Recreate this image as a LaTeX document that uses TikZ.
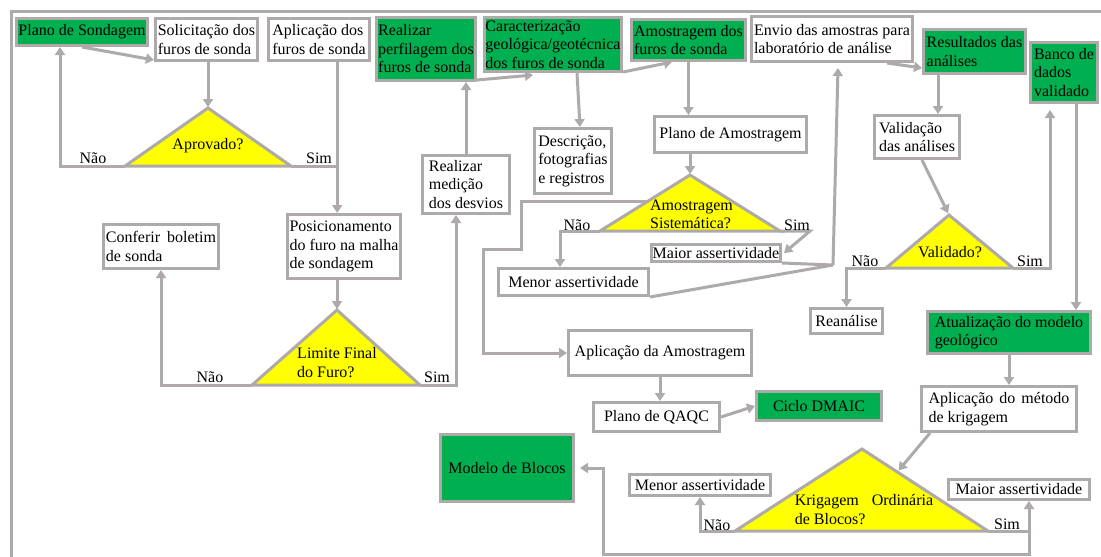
\documentclass[tikz,border=0pt]{standalone}
\usepackage{fontspec}
\setmainfont{Liberation Serif}
\usetikzlibrary{arrows.meta,calc}
\definecolor{lg}{RGB}{174,170,170}
\definecolor{gr}{RGB}{0,176,80}
\definecolor{yl}{RGB}{255,255,0}
\pgfdeclarelayer{bg}
\pgfsetlayers{bg,main}
\begin{document}
\begin{tikzpicture}[x=1pt,y=-1pt,
  every node/.style={font=\rmfamily\fontsize{16}{18.5}\selectfont},
  box/.style={draw=lg, line width=3pt, fill=white, inner sep=0pt, align=left},
  gbox/.style={box, fill=gr},
  sz/.style 2 args={minimum width=#1pt, minimum height=#2pt},
  tri/.style={draw=lg, line width=3pt, fill=yl, line join=miter},
  conn/.style={draw=lg, line width=3pt},
  arr/.style={conn, -{Triangle[length=8pt,width=10pt]}},
  lbl/.style={inner sep=0pt}]
\useasboundingbox (0,0) rectangle (1101,557);

% decision triangles
\filldraw[tri] (208,108) coordinate (t1a) -- (291,166) coordinate (t1r) -- (125,166) coordinate (t1l) -- cycle;
\filldraw[tri] (337,310) coordinate (t2a) -- (420,385) coordinate (t2r) -- (252,385) coordinate (t2l) -- cycle;
\filldraw[tri] (690,175) coordinate (t3a) -- (780,231) coordinate (t3r) -- (600,231) coordinate (t3l) -- cycle;
\filldraw[tri] (949,215) coordinate (t4a) -- (1013,268) coordinate (t4r) -- (886,268) coordinate (t4l) -- cycle;
\filldraw[tri] (862,449) coordinate (t5a) -- (988,531) coordinate (t5r) -- (735,531) coordinate (t5l) -- cycle;

\node[lbl] (q1) at (208,146) {Aprovado?};
\node[lbl, align=left] (q2) at (337,362.5) {Limite Final\\do Furo?};
\node[lbl, align=left] (q3) at (691.5,214.5) {Amostragem\\Sistemática?};
\node[lbl] (q4) at (950,252) {Validado?};
\node[lbl, align=left] (q5) at (864,509.5) {Krigagem\hspace{13pt}Ordinária\\de Blocos?};

% boxes
\node[gbox, sz={131}{27}] (plano) at (82,32) {Plano de Sondagem};
\node[box, sz={102}{42}] (solic) at (206.5,39.5) {Solicitação dos\\furos de sonda};
\node[box, sz={101}{42}] (aplic) at (319,39.5) {Aplicação dos\\furos de sonda};
\node[gbox, sz={99}{63}] (perf) at (426,49) {Realizar\\perfilagem dos\\furos de sonda};
\node[gbox, sz={137}{54}] (carac) at (553,44.5) {Caracterização\\geológica/geotécnica\\dos furos de sonda};
\node[gbox, sz={114}{41}] (amost) at (688.5,40) {Amostragem dos\\furos de sonda};
\node[box, sz={161}{45}] (envio) at (832,39) {Envio das amostras para\\laboratório de análise};
\node[gbox, sz={102}{44}] (result) at (974.5,51.5) {Resultados das\\análises};
\node[gbox, sz={67}{60}] (banco) at (1064,72.5) {Banco de\\dados\\validado};
\node[box, sz={85}{43}] (valid) at (917,137) {Validação\\das análises};
\node[box, sz={77}{65}] (descr) at (573,161) {Descrição,\\fotografias\\e registros};
\node[box, sz={152}{36}] (planoam) at (730.5,134.5) {Plano de Amostragem};
\node[box, sz={87}{58}] (medic) at (466,184.5) {Realizar\\medição\\dos desvios};
\node[box, sz={115}{44}] (conf) at (161,246.5) {Conferir\hspace{7pt}boletim\\de sonda};
\node[box, sz={113}{64}] (posic) at (344,246.5) {Posicionamento\\do furo na malha\\de sondagem};
\node[box, sz={129}{17}] (maior1) at (716,253) {Maior assertividade};
\node[box, sz={150}{27}] (menor1) at (573.5,282) {Menor assertividade};
\node[box, sz={72}{25}] (reanal) at (846.5,321) {Reanálise};
\node[gbox, sz={163}{42}] (atual) at (1009,332.5) {Atualização do modelo\\geológico};
\node[box, sz={183}{45}] (aplam) at (660,353) {Aplicação da Amostragem};
\node[box, sz={126}{29}] (qaqc) at (656.5,417) {Plano de QAQC};
\node[gbox, sz={125}{29}] (dmaic) at (819,406) {Ciclo DMAIC};
\node[box, sz={155}{45}] (krigapp) at (999,409) {Aplicação\hspace{6pt}do\hspace{6pt}método\\de krigagem};
\node[gbox, sz={133}{67}] (modelo) at (507,468) {Modelo de Blocos};
\node[box, sz={141}{21}] (menor2) at (700,485) {Menor assertividade};
\node[box, sz={141}{20}] (maior2) at (1019,489.5) {Maior assertividade};

% labels
\node[lbl] (n1) at (93,158) {Não};
\node[lbl] (s1) at (319,158) {Sim};
\node[lbl] (n2) at (210,377) {Não};
\node[lbl] (s2) at (437,377) {Sim};
\node[lbl] (n3) at (577,225) {Não};
\node[lbl] (s3) at (797,225) {Sim};
\node[lbl] (n4) at (865,261) {Não};
\node[lbl] (s4) at (1030,261) {Sim};
\node[lbl] (n5) at (717,525) {Não};
\node[lbl] (s5) at (1007,524) {Sim};

\begin{pgfonlayer}{bg}
\fill[white] (0,0) rectangle (1101,557);
\draw[conn] (11,557) -- (11,11) -- (1101,11);
\draw[arr] (plano.south) -- ([yshift=2pt]solic.south west);
\draw[arr, shorten >=1pt] (t1a |- solic.south) -- (t1a);
\draw[arr] (t1l) -| ($(plano.south west)!0.336!(plano.south east)$);
\coordinate (v1) at ($(aplic.south west)!0.675!(aplic.south east)$);
\draw[arr] (v1) -- (v1 |- posic.north);
\draw[conn] (t1r) -- (t1r -| v1);
\draw[arr, shorten >=1pt] (t2a |- posic.south) -- (t2a);
\draw[arr] (t2l) -| (conf.south);
\draw[arr] (t2r) -| ([xshift=-10pt]medic.south);
\draw[arr] (medic.north) -- (medic.north |- perf.south);
\draw[arr] ([yshift=2pt]perf.south east) -- ([xshift=50pt,yshift=-2pt]carac.south west);
\draw[arr] ([yshift=1pt]carac.south east) -- ([xshift=42pt]amost.south west);
\draw[arr] ([xshift=94pt]carac.south west) -- ([xshift=7pt]descr.north);
\draw[arr] (amost.south) -- (amost.south |- planoam.north);
\draw[arr, shorten >=1pt] (t3a |- planoam.south) -- (t3a);
\draw[arr] (t3l) -| ([xshift=-13.5pt]menor1.north);
\draw[arr] (t3r) -- ++(30,0) -- ([xshift=2pt]maior1.east);
\draw[arr] ($(t3a)!0.48!(t3l)$) -| ++(-125,48) -- ++(-38,0) |- (aplam.west);
\coordinate (j1) at (833,265);
\draw[conn] (menor1.south east) -- (j1);
\draw[conn] (maior1.south east) -- (j1);
\draw[arr] (j1) -- ([xshift=88pt,yshift=-5pt]envio.south west);
\draw[arr] ([xshift=137pt]envio.south west) -- ([yshift=7pt]result.south west);
\draw[arr] ([xshift=16pt]result.south west) coordinate (r1) -- (r1 |- valid.north);
\draw[arr, shorten >=2pt] ([xshift=5pt]valid.south) -- (t4a);
\draw[arr] (t4l) -| (reanal.north);
\draw[arr] (t4r) -| ([xshift=-14pt,yshift=-6pt]banco.south);
\draw[arr] ([xshift=12pt]banco.south) coordinate (b1) -- (b1 |- atual.north);
\draw[arr] (atual.south) -- (atual.south |- krigapp.north);
\draw[arr, shorten >=2pt] ([xshift=10pt]krigapp.south west) -- ($(t5a)!0.28!(t5r)$);
\draw[arr] (t5l) -| (menor2.south);
\coordinate (s5c) at ($(t5r)+(41,0)$);
\draw[arr] (t5r) -- (s5c) -- (s5c |- maior2.south);
\draw[arr] (s5c) -- ++(0,23) -| ($(modelo.east)+(28,0)$) -- ([xshift=5pt]modelo.east);
\draw[arr] (aplam.south) -- (aplam.south |- qaqc.north);
\draw[arr] (qaqc.east) -- (dmaic.west);
\end{pgfonlayer}
\end{tikzpicture}
\end{document}
